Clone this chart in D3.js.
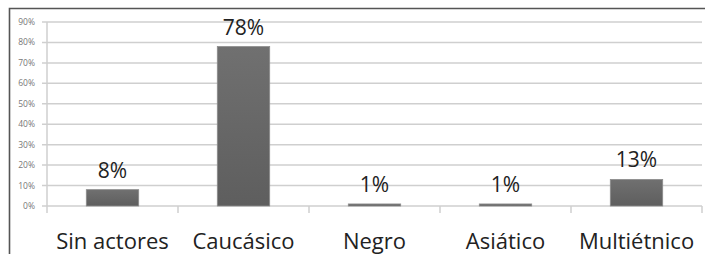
<!DOCTYPE html>
<html>
<head>
  <meta charset="utf-8">
  <title>Bar chart</title>
  <script src="https://d3js.org/d3.v7.min.js"></script>
  <style>
    body { margin: 0; background: #fff; }
  </style>
</head>
<body>
<div id="chart"></div>
<script type="text/javascript">
  // data
  let categories = ['Sin actores', 'Caucásico', 'Negro', 'Asiático', 'Multiétnico'];
  let values = [0.08, 0.78, 0.01, 0.01, 0.13];
  let yTicks = [0, 0.1, 0.2, 0.3, 0.4, 0.5, 0.6, 0.7, 0.8, 0.9];

  let W = 705, H = 254;
  let margin = {top: 22, right: 3, bottom: 48, left: 47};
  let w = W - margin.left - margin.right;
  let h = H - margin.top - margin.bottom;

  let svg = d3.select('#chart')
      .append('svg')
        .attr('width', W)
        .attr('height', H);

  // frame (only top and left visible)
  svg.append('path')
     .attr('d', `M9.5,${H} L9.5,8.5 L${W},8.5`)
     .attr('fill', 'none')
     .attr('stroke', '#555')
     .attr('stroke-width', 1.6);

  let g = svg.append('g')
      .attr('transform', `translate(${margin.left},${margin.top})`);

  let xScale = d3.scaleBand()
                .domain(categories)
                .range([0, w])
                .paddingInner(0.6)
                .paddingOuter(0.3);

  let yScale = d3.scaleLinear()
                .domain([0, 0.9])
                .range([h, 0]);

  // gridlines
  g.selectAll('line.grid')
   .data(yTicks)
   .enter()
   .append('line')
   .attr('class', 'grid')
   .attr('x1', -5)
   .attr('x2', w)
   .attr('y1', d => yScale(d))
   .attr('y2', d => yScale(d))
   .attr('stroke', '#cfcfcf')
   .attr('stroke-width', 1.5);

  // y axis line
  g.append('line')
   .attr('x1', 0).attr('x2', 0)
   .attr('y1', 0).attr('y2', h + 7)
   .attr('stroke', '#cfcfcf')
   .attr('stroke-width', 1.5);

  // x ticks at category boundaries
  let step = w / categories.length;
  g.selectAll('line.xtick')
   .data(d3.range(1, categories.length + 1))
   .enter()
   .append('line')
   .attr('class', 'xtick')
   .attr('x1', i => i * step)
   .attr('x2', i => i * step)
   .attr('y1', h)
   .attr('y2', h + 7)
   .attr('stroke', '#cfcfcf')
   .attr('stroke-width', 1.5);

  // y tick labels
  g.selectAll('text.ylab')
   .data(yTicks)
   .enter()
   .append('text')
   .attr('class', 'ylab')
   .attr('x', -12)
   .attr('y', d => yScale(d))
   .attr('dy', '0.35em')
   .attr('text-anchor', 'end')
   .attr('font-family', 'Open Sans, sans-serif')
   .attr('font-size', '8.5px')
   .attr('fill', '#777')
   .text(d => d3.format('.0%')(d));

  // bars
  let grad = svg.append('defs').append('linearGradient')
      .attr('id', 'barGrad')
      .attr('x1', 0).attr('x2', 0).attr('y1', 0).attr('y2', 1);
  grad.append('stop').attr('offset', '0%').attr('stop-color', '#707070');
  grad.append('stop').attr('offset', '100%').attr('stop-color', '#5e5e5e');

  g.selectAll('rect')
   .data(values)
   .enter()
   .append('rect')
   .attr('x', (d, i) => xScale(categories[i]))
   .attr('y', d => yScale(d))
   .attr('width', xScale.bandwidth())
   .attr('height', d => h - yScale(d))
   .attr('fill', 'url(#barGrad)')
   .attr('stroke', '#8c8c8c')
   .attr('stroke-width', 0.8);

  // value labels
  g.selectAll('text.val')
   .data(values)
   .enter()
   .append('text')
   .attr('class', 'val')
   .attr('x', (d, i) => xScale(categories[i]) + xScale.bandwidth() / 2)
   .attr('y', d => yScale(d) - 12)
   .attr('text-anchor', 'middle')
   .attr('font-family', 'Open Sans, sans-serif')
   .attr('font-size', '21px')
   .attr('fill', '#222')
   .text(d => d3.format('.0%')(d));

  // category labels
  g.selectAll('text.cat')
   .data(categories)
   .enter()
   .append('text')
   .attr('class', 'cat')
   .attr('x', d => xScale(d) + xScale.bandwidth() / 2)
   .attr('y', h + 43)
   .attr('text-anchor', 'middle')
   .attr('font-family', 'Open Sans, sans-serif')
   .attr('font-size', '22px')
   .attr('fill', '#222')
   .text(d => d);
</script>
</body>
</html>
